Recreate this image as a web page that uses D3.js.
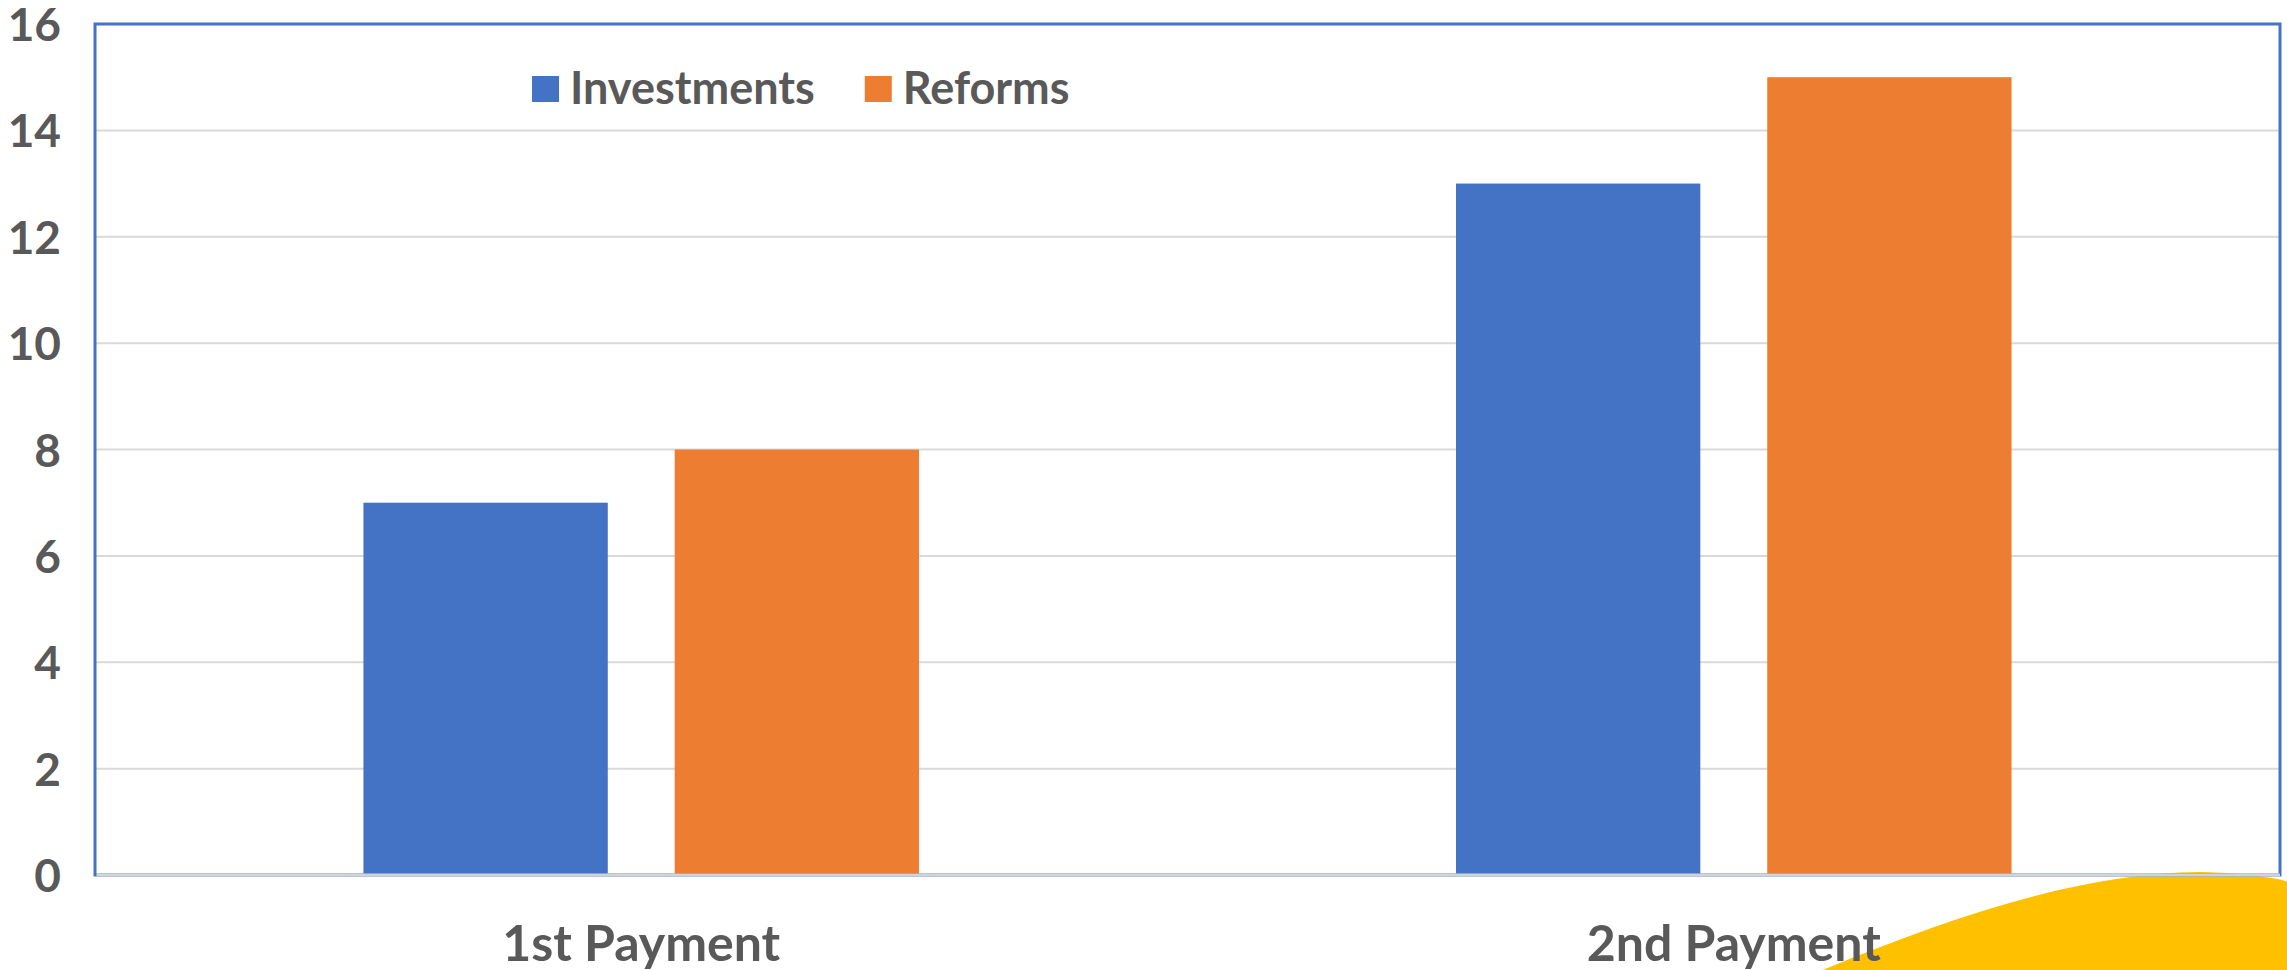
<!DOCTYPE html>
<html>
<head>
<meta charset="utf-8">
<script src="https://cdn.jsdelivr.net/npm/d3@7"></script>
<style>
  body { margin: 0; background: #fff; }
  svg text { font-family: Lato, 'Open Sans', sans-serif; font-weight: 700; fill: #595959; }
</style>
</head>
<body>
<svg id="chart"></svg>
<script>
// chart data
const categories = ['1st Payment', '2nd Payment'];
const seriesNames = ['Investments', 'Reforms'];
const investments = [7, 13];
const reforms = [8, 15];
const yTickValues = [0, 2, 4, 6, 8, 10, 12, 14, 16];
const seriesColors = ['#4472c4', '#ed7d31'];

const width = 2287, height = 970;
const margin = {top: 24, right: 7, bottom: 95, left: 95};
const innerW = width - margin.left - margin.right;
const innerH = height - margin.top - margin.bottom;

const rows = categories.map((c, i) => ({category: c, values: [investments[i], reforms[i]]}));

const svg = d3.select('#chart')
    .attr('width', width)
    .attr('height', height);

// yellow decoration in the bottom right corner
svg.append('path')
    .attr('d', `M${width * 0.797},${height} C${width * 0.86},${height - 60} ${width * 0.915},${height - 98} ${width * 0.962},${height - 98} C${width * 0.985},${height - 97} ${width},${height - 90} ${width},${height - 88} L${width},${height} Z`)
    .attr('fill', '#ffc000');

const chart = svg.append('g')
    .attr('transform', `translate(${margin.left},${margin.top})`);

// scales
const x0 = d3.scaleBand()
    .domain(categories)
    .range([0, innerW])
    .paddingInner(0.4915)
    .paddingOuter(0.2457);

const x1 = d3.scaleBand()
    .domain(seriesNames)
    .range([0, x0.bandwidth()])
    .paddingInner(0.215);

const y = d3.scaleLinear()
    .domain([0, 16])
    .range([innerH, 0]);

const color = d3.scaleOrdinal().domain(seriesNames).range(seriesColors);

// gridlines
chart.append('g')
    .selectAll('line')
    .data(yTickValues.filter(d => d > 0 && d < 16))
    .join('line')
    .attr('x1', 0)
    .attr('x2', innerW)
    .attr('y1', d => y(d))
    .attr('y2', d => y(d))
    .attr('stroke', '#d9d9d9')
    .attr('stroke-width', 2);

// bars
chart.append('g')
    .selectAll('g')
    .data(rows)
    .join('g')
    .attr('transform', d => `translate(${x0(d.category)},0)`)
    .selectAll('rect')
    .data(d => seriesNames.map((s, i) => ({key: s, value: d.values[i]})))
    .join('rect')
    .attr('x', d => x1(d.key))
    .attr('width', x1.bandwidth())
    .attr('y', d => y(d.value))
    .attr('height', d => innerH - y(d.value))
    .attr('fill', d => color(d.key));

// plot frame
chart.append('rect')
    .attr('x', 0)
    .attr('y', 0)
    .attr('width', innerW)
    .attr('height', innerH)
    .attr('fill', 'none')
    .attr('stroke', '#4472c4')
    .attr('stroke-width', 3);

chart.append('line')
    .attr('x1', 1.5)
    .attr('x2', innerW)
    .attr('y1', innerH)
    .attr('y2', innerH)
    .attr('stroke', '#d0d3da')
    .attr('stroke-width', 3);

// y axis labels
const yAxis = d3.axisLeft(y)
    .tickValues(yTickValues)
    .tickSize(0)
    .tickPadding(34)
    .tickFormat(d3.format('d'));

chart.append('g')
    .call(yAxis)
    .call(g => g.select('.domain').remove())
    .selectAll('text')
    .attr('font-size', 46)
    .attr('dy', '0.36em')
    .style('font-family', null);

// x axis labels
const xAxis = d3.axisBottom(x0)
    .tickSize(0)
    .tickPadding(0);

chart.append('g')
    .attr('transform', `translate(0,${innerH})`)
    .call(xAxis)
    .call(g => g.select('.domain').remove())
    .selectAll('text')
    .attr('font-size', 50)
    .attr('dy', null)
    .attr('y', 86);

// legend
const legend = svg.append('g');
let lx = 532;
seriesNames.forEach(name => {
    legend.append('rect')
        .attr('x', lx)
        .attr('y', 76)
        .attr('width', 27)
        .attr('height', 26)
        .attr('fill', color(name));
    const t = legend.append('text')
        .attr('x', lx + 38)
        .attr('y', 104)
        .attr('font-size', 45)
        .text(name);
    lx += 38 + t.node().getComputedTextLength() + 50;
});
</script>
</body>
</html>
